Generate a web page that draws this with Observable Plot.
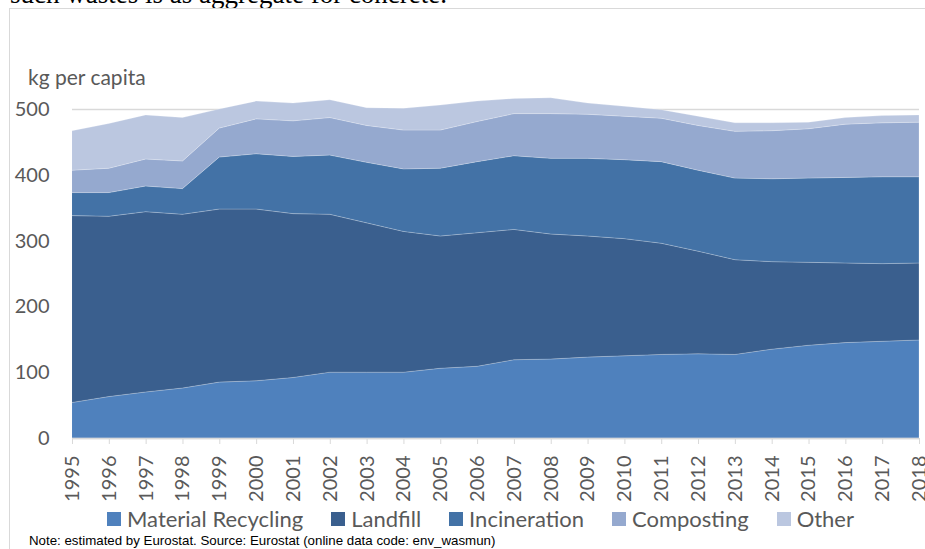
<!DOCTYPE html>
<html>
<head>
<meta charset="utf-8">
<script src="https://cdn.jsdelivr.net/npm/d3@7"></script>
<script src="https://cdn.jsdelivr.net/npm/@observablehq/plot@0.6"></script>
<style>
  html, body { margin: 0; padding: 0; background: #fff; overflow: hidden; }
  body { width: 925px; height: 549px; position: relative; }
  #topline { position: absolute; left: 10px; top: -21px; font-family: "Liberation Serif", serif; font-size: 27px; color: #000; white-space: nowrap; line-height: 30px; }
  #box { position: absolute; left: 9px; top: 8px; width: 960px; height: 600px; border: 1px solid #d9d9d9; box-sizing: border-box; }
  #chart { position: absolute; left: 0; top: 0; }
  #ylabel { position: absolute; left: 28px; top: 64px; font-family: Lato, sans-serif; font-size: 21px; color: #595959; white-space: nowrap; }
  #legend { position: absolute; left: 107px; top: 505px; display: flex; align-items: center; font-family: Lato, sans-serif; font-size: 22px; color: #595959; white-space: nowrap; }
  #legend .item { display: flex; align-items: center; margin-right: 28px; }
  #legend .sw { width: 14px; height: 14px; margin-right: 6px; }
  #note { position: absolute; left: 29px; top: 533px; font-family: "Liberation Sans", Arial, sans-serif; font-size: 13.3px; color: #000; white-space: nowrap; }
</style>
</head>
<body>
<div id="topline">such wastes is as aggregate for concrete.</div>
<div id="box"></div>
<div id="chart"></div>
<div id="ylabel">kg per capita</div>
<div id="legend"></div>
<div id="note">Note: estimated by Eurostat. Source: Eurostat (online data code: env_wasmun)</div>
<script>
const years = [1995,1996,1997,1998,1999,2000,2001,2002,2003,2004,2005,2006,2007,2008,2009,2010,2011,2012,2013,2014,2015,2016,2017,2018];
const seriesNames = ["Material Recycling", "Landfill", "Incineration", "Composting", "Other"];
const materialRecycling = [54,63,70,76,85,87,92,100,100,100,106,109,119,120,123,125,127,128,127,135,141,145,147,149];
const landfill          = [284,274,274,264,263,261,249,240,227,214,201,203,198,190,184,178,169,156,144,133,126,121,118,117];
const incineration      = [35,36,39,39,79,84,87,90,92,95,103,108,112,115,118,120,124,123,124,126,128,130,132,131];
const composting        = [34,37,41,42,44,53,54,57,56,59,58,61,64,68,67,66,66,68,71,73,75,81,82,83];
const other             = [60,68,67,66,29,27,27,27,27,33,38,31,23,24,17,15,13,14,13,12,10,10,11,11];
const yTicks = [0,100,200,300,400,500];
const colors = ["#4f81bd", "#3a5f8e", "#4372a6", "#95a9cf", "#bbc7e0"];

const seriesValues = [materialRecycling, landfill, incineration, composting, other];
const data = [];
seriesNames.forEach((name, i) => {
  years.forEach((yr, j) => data.push({year: yr, series: name, value: seriesValues[i][j]}));
});

const chart = Plot.plot({
  width: 925,
  height: 505,
  marginLeft: 72,
  marginRight: 6,
  marginTop: 109,
  marginBottom: 67,
  style: { fontFamily: "Lato, sans-serif", fontSize: "20px", color: "#595959", background: "transparent" },
  x: { type: "linear", domain: [1995, 2018], label: null },
  y: { domain: [0, 500], label: null },
  color: { domain: seriesNames, range: colors },
  marks: [
    Plot.gridY(yTicks, { stroke: "#d9d9d9", strokeOpacity: 1, strokeWidth: 1.3 }),
    Plot.areaY(data, Plot.stackY({ x: "year", y: "value", z: "series", fill: "series", order: seriesNames, stroke: "#ffffff", strokeOpacity: 0.35, strokeWidth: 0.6 })),
    Plot.ruleY([0], { stroke: "#d9d9d9", strokeWidth: 1.3 }),
    Plot.axisX({ ticks: years, tickFormat: d => String(d), tickRotate: -90, tickSize: 6, tickPadding: 11, stroke: "#d9d9d9", fill: "#595959", fontSize: 20 }),
    Plot.axisY({ ticks: yTicks, tickSize: 0, tickPadding: 23, fill: "#595959", fontSize: 20 })
  ]
});
document.getElementById("chart").appendChild(chart);

const legend = document.getElementById("legend");
seriesNames.forEach((name, i) => {
  const item = document.createElement("div");
  item.className = "item";
  const sw = document.createElement("div");
  sw.className = "sw";
  sw.style.background = colors[i];
  const t = document.createElement("span");
  t.textContent = name;
  item.appendChild(sw);
  item.appendChild(t);
  legend.appendChild(item);
});
</script>
</body>
</html>
